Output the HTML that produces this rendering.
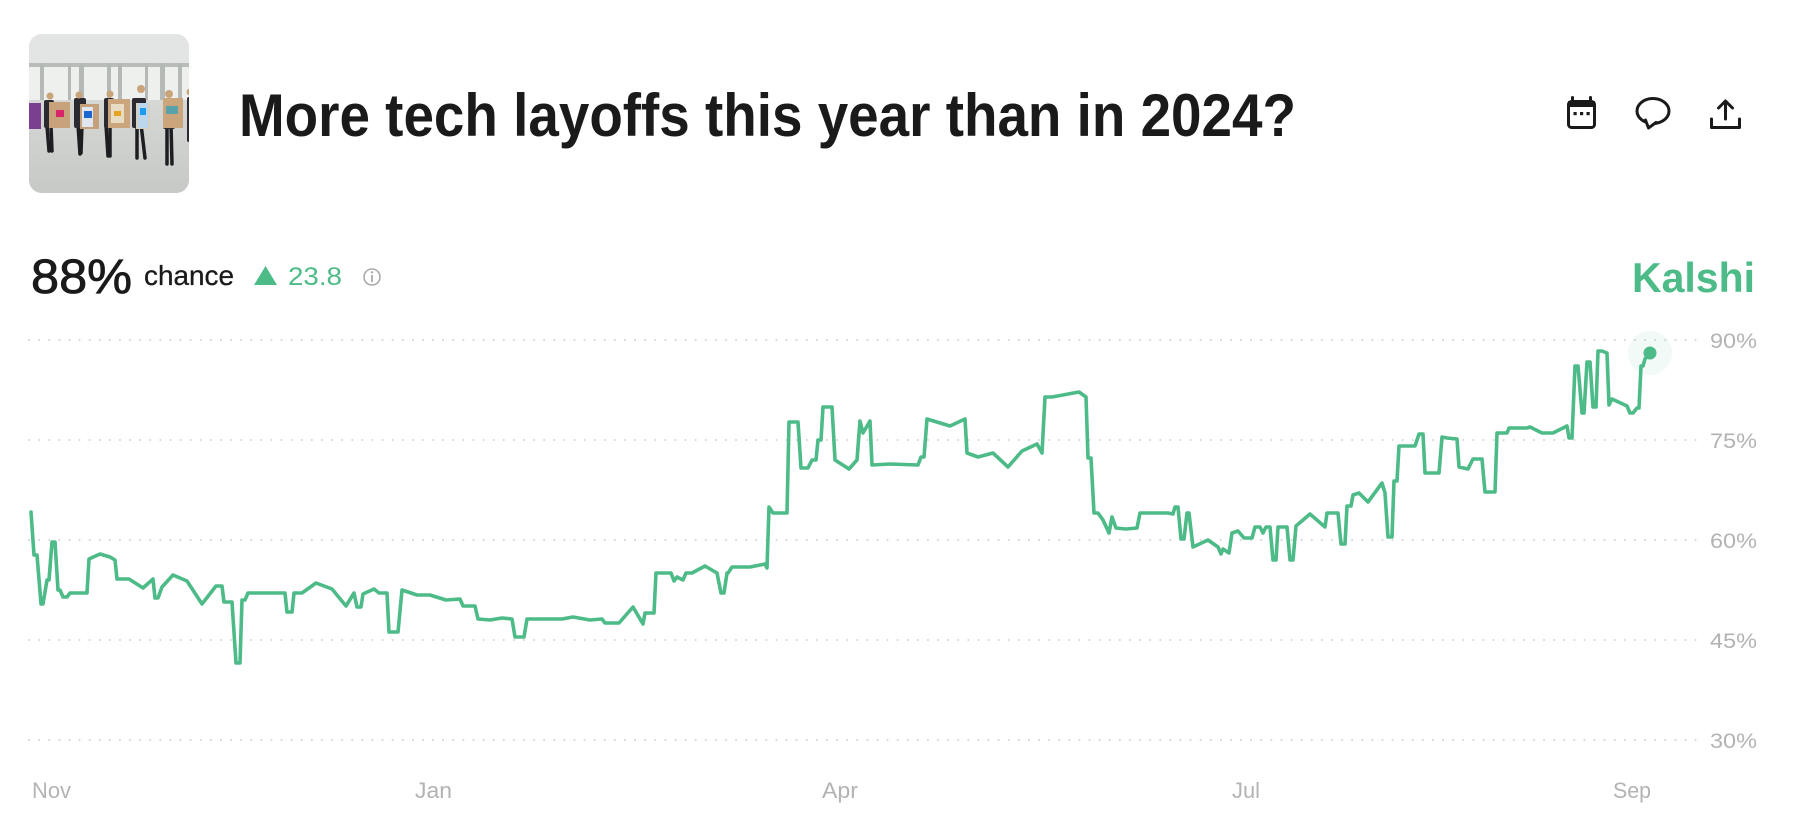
<!DOCTYPE html>
<html>
<head>
<meta charset="utf-8">
<style>
html,body{margin:0;padding:0;background:#fff;}
svg{display:block;}
text{font-family:"Liberation Sans",Arial,sans-serif;}
</style>
</head>
<body>
<svg width="1798" height="830" viewBox="0 0 1798 830" xmlns="http://www.w3.org/2000/svg">
<rect width="1798" height="830" fill="#fff"/>
<defs>
<clipPath id="thumb"><rect x="29" y="34" width="160" height="159" rx="13" ry="13"/></clipPath>
<linearGradient id="floor" x1="0" y1="0" x2="0" y2="1">
<stop offset="0" stop-color="#d6d8d5"/><stop offset="1" stop-color="#c7c9c6"/>
</linearGradient>
</defs>
<!-- thumbnail -->
<g clip-path="url(#thumb)">
<rect x="29" y="34" width="160" height="159" fill="#d9dbd8"/>
<rect x="29" y="34" width="160" height="30" fill="#e3e5e4"/>
<rect x="29" y="63" width="160" height="40" fill="#eef0ee"/>
<rect x="29" y="63" width="160" height="4" fill="#b9bdba"/>
<g fill="#b5b9b6">
<rect x="40" y="63" width="4" height="40"/><rect x="68" y="63" width="3" height="40"/><rect x="79" y="63" width="5" height="40"/>
<rect x="107" y="63" width="4" height="40"/><rect x="118" y="63" width="4" height="40"/><rect x="145" y="63" width="3" height="40"/>
<rect x="160" y="63" width="5" height="40"/><rect x="178" y="63" width="4" height="40"/>
</g>
<rect x="29" y="100" width="160" height="93" fill="url(#floor)"/>
<!-- people legs -->
<g stroke="#1e1e22" stroke-width="3.5" stroke-linecap="round">
<line x1="78" y1="125" x2="80" y2="154"/><line x1="82" y1="125" x2="81" y2="153"/>
<line x1="106" y1="125" x2="108" y2="156"/><line x1="110" y1="125" x2="110" y2="156"/>
<line x1="137" y1="124" x2="137" y2="158"/><line x1="141" y1="124" x2="145" y2="158"/>
<line x1="167" y1="125" x2="167" y2="164"/><line x1="171" y1="125" x2="172" y2="164"/>
<line x1="196" y1="125" x2="195" y2="165"/>
<line x1="47" y1="126" x2="49" y2="151"/><line x1="51" y1="126" x2="52" y2="151"/>
</g>
<g fill="#2a2a30">
<rect x="44" y="100" width="10" height="28" rx="2"/><rect x="74" y="98" width="12" height="30" rx="2"/>
<rect x="104" y="98" width="10" height="30" rx="2"/><rect x="132" y="98" width="14" height="30" rx="2"/>
<rect x="163" y="99" width="12" height="30" rx="2"/><rect x="187" y="97" width="10" height="45" rx="2"/>
</g>
<g fill="#c9a47a">
<circle cx="50" cy="96" r="3.5"/><circle cx="79" cy="95" r="3.5"/><circle cx="110" cy="94" r="3.5"/>
<circle cx="141" cy="89" r="4"/><circle cx="169" cy="94" r="4"/><circle cx="190" cy="92" r="3.5"/>
</g>
<!-- boxes -->
<rect x="29" y="103" width="12" height="26" fill="#7b3f8f"/>
<rect x="49" y="102" width="21" height="26" fill="#c7a27a"/>
<rect x="56" y="110" width="8" height="7" fill="#d8246a"/>
<rect x="80" y="104" width="19" height="25" fill="#c4a17a"/>
<rect x="82" y="107" width="11" height="20" fill="#dfe6ef"/>
<rect x="84" y="111" width="8" height="7" fill="#1c66d0"/>
<rect x="108" y="99" width="22" height="29" fill="#cba57b"/>
<rect x="111" y="104" width="13" height="19" fill="#e8dcc4"/>
<rect x="114" y="111" width="7" height="5" fill="#e7a21e"/>
<rect x="136" y="103" width="14" height="26" fill="#d8cfbe"/>
<rect x="138" y="103" width="10" height="25" fill="#bcd6ee"/>
<rect x="140" y="108" width="6" height="7" fill="#1d9bf0"/>
<rect x="163" y="98" width="20" height="30" fill="#cba57b"/>
<rect x="166" y="106" width="12" height="8" fill="#3aa3b5" opacity="0.8"/>
</g>
<!-- title -->
<text x="239" y="136" font-size="60" font-weight="bold" fill="#1a1a1a" textLength="1057" lengthAdjust="spacingAndGlyphs">More tech layoffs this year than in 2024?</text>
<!-- icons -->
<g fill="none" stroke="#1a1a1a" stroke-width="3" stroke-linecap="round" stroke-linejoin="round">
<rect x="1568.5" y="101.5" width="26" height="26" rx="3"/>
<line x1="1572.5" y1="97.5" x2="1572.5" y2="102"/>
<line x1="1590.5" y1="97.5" x2="1590.5" y2="102"/>
<ellipse cx="1653" cy="111" rx="16" ry="12.5"/>
<line x1="1725.5" y1="102" x2="1725.5" y2="119"/>
<polyline points="1718.5,108 1725.5,101 1732.5,108"/>
<polyline points="1711.5,119 1711.5,127.5 1739.5,127.5 1739.5,119"/>
</g>
<rect x="1568" y="101" width="27" height="6" fill="#1a1a1a"/>
<g fill="#1a1a1a">
<rect x="1573.5" y="112" width="3.2" height="3.2"/><rect x="1580" y="112" width="3.2" height="3.2"/><rect x="1586.5" y="112" width="3.2" height="3.2"/>
</g>
<polygon points="1645,119 1657,121 1649,129" fill="#fff"/>
<polyline points="1645.5,120 1648.5,128 1656,122.5" fill="none" stroke="#1a1a1a" stroke-width="3" stroke-linejoin="round" stroke-linecap="round"/>
<!-- stats -->
<text x="31" y="293" font-size="48" fill="#1a1a1a" stroke="#1a1a1a" stroke-width="0.8" textLength="101" lengthAdjust="spacingAndGlyphs">88%</text>
<text x="144" y="285" font-size="28" fill="#1a1a1a" stroke="#1a1a1a" stroke-width="0.3" textLength="90" lengthAdjust="spacingAndGlyphs">chance</text>
<polygon points="254,285 277,285 265.5,266" fill="#4dbb87"/>
<text x="288" y="285" font-size="25" fill="#4dbb87" textLength="54" lengthAdjust="spacingAndGlyphs">23.8</text>
<circle cx="372" cy="277" r="8" fill="none" stroke="#aaaaaa" stroke-width="1.6"/>
<rect x="371.1" y="275" width="1.8" height="7" fill="#aaaaaa"/>
<circle cx="372" cy="272.3" r="1.2" fill="#aaaaaa"/>
<text x="1632" y="292" font-size="42" font-weight="bold" fill="#4dbb87" textLength="123" lengthAdjust="spacingAndGlyphs">Kalshi</text>
<!-- grid -->
<g stroke="#d6d6d6" stroke-width="2" stroke-dasharray="0.1 10" stroke-linecap="round">
<line x1="29" y1="340" x2="1702" y2="340"/>
<line x1="29" y1="440" x2="1702" y2="440"/>
<line x1="29" y1="540" x2="1702" y2="540"/>
<line x1="29" y1="640" x2="1702" y2="640"/>
<line x1="29" y1="740" x2="1702" y2="740"/>
</g>
<g font-size="21" fill="#b3b3b3">
<text x="1710" y="348" textLength="47" lengthAdjust="spacingAndGlyphs">90%</text>
<text x="1710" y="448" textLength="47" lengthAdjust="spacingAndGlyphs">75%</text>
<text x="1710" y="548" textLength="47" lengthAdjust="spacingAndGlyphs">60%</text>
<text x="1710" y="648" textLength="47" lengthAdjust="spacingAndGlyphs">45%</text>
<text x="1710" y="748" textLength="47" lengthAdjust="spacingAndGlyphs">30%</text>
</g>
<g font-size="22" fill="#b3b3b3">
<text x="32" y="798" textLength="39" lengthAdjust="spacingAndGlyphs">Nov</text>
<text x="415" y="798" textLength="37" lengthAdjust="spacingAndGlyphs">Jan</text>
<text x="822" y="798" textLength="36" lengthAdjust="spacingAndGlyphs">Apr</text>
<text x="1232" y="798" textLength="28" lengthAdjust="spacingAndGlyphs">Jul</text>
<text x="1613" y="798" textLength="38" lengthAdjust="spacingAndGlyphs">Sep</text>
</g>
<!-- series -->
<circle cx="1650" cy="353" r="22" fill="#4dbb87" opacity="0.08"/>
<polyline fill="none" stroke="#4dbb87" stroke-width="3.6" stroke-linejoin="round" stroke-linecap="round" points="31,512 34,555 37,555 41,604 43,604 47,580 49,580 52,542 55,542 58,590 60,590 63,597 67,597 70,593 87,593 89,559 100,554 110,557 115,560 117,579 129,579 143,588 153,579 155,598 158,598 162,587 173,575 187,581 202,604 216,586 222,586 224,602 232,602 236,663 240,663 242,600 245,600 248,593 285,593 287,612 292,612 294,593 302,593 316,583 332,589 346,606 354,593 357,607 361,607 363,594 374,589 379,593 387,593 389,632 398,632 402,590 417,595 430,595 446,600 460,599 463,606 475,606 478,619 490,620 502,618 512,619 515,637 524,637 527,619 562,619 573,617 590,620 602,619 605,623 619,623 633,607 643,624 645,613 654,613 656,573 671,573 674,581 677,577 683,580 686,573 692,573 705,566 717,573 721,593 724,593 727,573 728,573 732,567 750,567 765,564 767,568 769,507 773,513 787,513 789,422 798,422 801,468 808,468 812,460 816,460 818,440 821,440 823,407 832,407 835,460 849,469 857,460 860,421 863,433 870,421 872,465 890,464 918,465 921,457 924,457 927,419 950,426 965,419 967,453 978,457 993,453 1008,467 1022,451 1037,444 1042,453 1045,397 1052,397 1079,392 1086,397 1088,458 1091,458 1094,513 1098,513 1103,520 1109,533 1112,517 1116,528 1126,529 1137,528 1140,513 1146,513 1168,513 1173,514 1175,507 1178,507 1181,539 1184,539 1187,513 1189,513 1193,547 1208,540 1218,547 1221,554 1223,549 1229,553 1232,533 1238,531 1244,538 1252,538 1255,527 1260,527 1263,533 1266,527 1270,527 1273,560 1276,560 1278,527 1287,527 1290,560 1293,560 1296,526 1310,514 1325,527 1327,513 1338,513 1341,544 1345,544 1347,506 1351,506 1353,495 1359,493 1368,502 1382,483 1385,493 1388,537 1392,537 1394,481 1397,481 1399,446 1415,446 1419,434 1423,434 1425,473 1439,473 1442,437 1447,438 1457,439 1459,467 1468,469 1473,459 1482,459 1485,492 1495,492 1497,433 1507,433 1509,428 1527,428 1530,427 1542,433 1553,433 1567,426 1569,438 1572,438 1575,366 1578,366 1582,413 1584,413 1587,362 1590,362 1593,407 1596,407 1598,351 1602,351 1607,353 1609,405 1612,399 1627,406 1630,413 1633,413 1637,408 1639,408 1641,366 1643,366 1645,359 1650,353"/>
<circle cx="1650" cy="353" r="6.5" fill="#4dbb87"/>
</svg>
</body>
</html>
